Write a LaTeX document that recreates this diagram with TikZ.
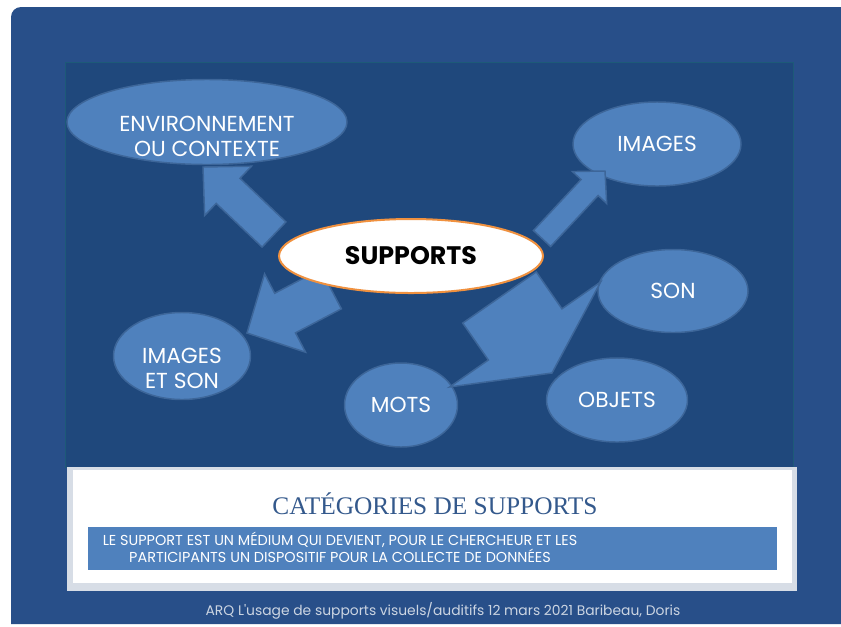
\documentclass[tikz,border=0pt]{standalone}
\usepackage{fontspec}
\newfontfamily\gothic{Poppins}
\newfontfamily\titleserif{Liberation Serif}
\usetikzlibrary{
  calc,
  shapes.geometric,
}

\definecolor{slidebg}{HTML}{284F89}
\definecolor{panelbg}{HTML}{1F487C}
\definecolor{panelline}{HTML}{1D5A78}
\definecolor{ovalfill}{HTML}{4F81BD}
\definecolor{ovalline}{HTML}{3D6699}
\definecolor{orangeline}{HTML}{F0913F}
\definecolor{titleblue}{HTML}{34598C}
\definecolor{shadowgray}{HTML}{D7DDE6}
\definecolor{footgray}{HTML}{CCD5E2}

% tail, tip, half shaft, half head, head length
\newcommand{\blockarrow}[5]{%
  \coordinate (hb) at ($(#2)!#5!(#1)$);
  \filldraw[arrowbody] ($(#1)!#3!90:(#2)$) -- ($(hb)!#3!-90:(#1)$)
    -- ($(hb)!#4!-90:(#1)$) -- (#2) -- ($(hb)!#4!90:(#1)$)
    -- ($(hb)!#3!90:(#1)$) -- ($(#1)!#3!-90:(#2)$) -- cycle;
}

\begin{document}
\begin{tikzpicture}[
  x=0.75pt, y=-0.75pt,
  oval/.style={
     ellipse,
     fill=ovalfill,
     draw=ovalline,
     line width=1.1pt,
     inner sep=0pt,
     outer sep=0pt,
     text=white,
     font=\gothic\fontsize{16.3}{18.7}\selectfont,
  },
  ovaltext/.style={
     align=center,
     text=white,
     font=\gothic\fontsize{16.3}{18.7}\selectfont,
  },
  arrowbody/.style={
     fill=ovalfill,
     draw=ovalline,
     line width=1.1pt,
     line join=miter,
  },
]
  \useasboundingbox (0,0) rectangle (841,626);
  \fill[white] (0,0) rectangle (841,626);
  \fill[slidebg] (11,624) -- (11,17) arc[start angle=180, end angle=270, radius=10]
    -- (841,7) -- (841,624) -- cycle;
  \filldraw[fill=panelbg, draw=panelline, line width=0.6pt] (65,62) rectangle (793,467);

  % outer categories
  \node[oval, minimum width=210pt, minimum height=63.75pt] (env) at (207,122) {};
  \node[ovaltext] (envtxt) at (207,136) {ENVIRONNEMENT\\OU CONTEXTE};
  \node[oval, minimum width=126pt, minimum height=63pt] (img) at (657,144) {IMAGES};
  \node[oval, minimum width=112.5pt, minimum height=62.25pt] (son) at (673,291) {SON};
  \node[oval, minimum width=105.75pt, minimum height=63pt] (obj) at (617,400) {OBJETS};
  \node[oval, minimum width=84.75pt, minimum height=63pt] (mots) at (401,405) {MOTS};
  \node[oval, minimum width=102.75pt, minimum height=65.25pt] (imson) at (182,356) {};
  \node[ovaltext] (imsontxt) at (182,368) {IMAGES\\ET SON};

  % arrows
  \coordinate (envtail) at (274,234.5);
  \coordinate (envtip) at (203,167);
  \coordinate (imgtail) at (542,238.5);
  \coordinate (imgtip) at (605,171);
  \coordinate (imsontail) at (331,289);
  \coordinate (imsontip) at (247,333);
  \coordinate (motstail) at (499.5,297.5);
  \coordinate (motstip) at (552,373);
  \blockarrow{envtail}{envtip}{12.98pt}{25.5pt}{25.95pt}
  \blockarrow{imgtail}{imgtip}{8.78pt}{17.55pt}{16.95pt}
  \blockarrow{imsontail}{imsontip}{16.76pt}{33.19pt}{32.25pt}
  \blockarrow{motstail}{motstip}{33.6pt}{69pt}{35.25pt}

  \node[ellipse, fill=white, draw=orangeline, line width=1.5pt, inner sep=0pt,
        minimum width=198pt, minimum height=55.5pt,
        font=\gothic\bfseries\fontsize{19}{21}\selectfont] (sup) at (411,256) {SUPPORTS};

  % caption box
  \fill[shadowgray] (67,467) rectangle (797,591);
  \fill[white] (73,470) rectangle (792,583);
  \node[text=titleblue, font=\titleserif\fontsize{19}{21}\selectfont] (title) at (435,504)
    {CATÉGORIES DE SUPPORTS};
  \fill[ovalfill] (88,527) rectangle (777,570);
  \node[align=center, text=white, font=\gothic\fontsize{10.8}{11.3}\selectfont] (defn) at (340,547)
    {LE SUPPORT EST UN MÉDIUM QUI DEVIENT, POUR LE CHERCHEUR ET LES\\
     PARTICIPANTS UN DISPOSITIF POUR LA COLLECTE DE DONNÉES};
  \node[text=footgray, font=\gothic\fontsize{10.4}{12}\selectfont] (foot) at (443,611)
    {ARQ L'usage de supports visuels/auditifs 12 mars 2021 Baribeau, Doris};
\end{tikzpicture}
\end{document}
